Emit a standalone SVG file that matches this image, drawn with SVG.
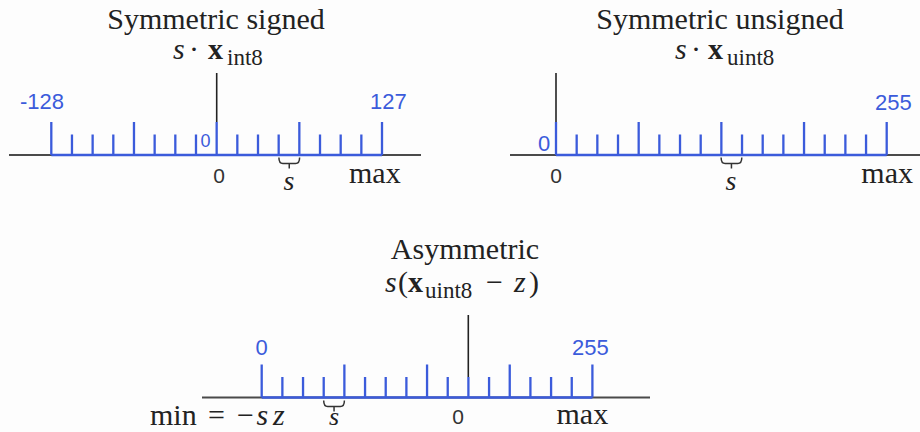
<svg xmlns="http://www.w3.org/2000/svg" xmlns:xlink="http://www.w3.org/1999/xlink" width="920" height="432" viewBox="0 0 920 432">
<style>
.axis{stroke:#4a4a4a;stroke-width:2;fill:none}
.blue{stroke:#3b5bdb;stroke-width:2.3;fill:none}
.vline{stroke:#222;stroke-width:1.6;fill:none}
.brace{stroke:#333;stroke-width:1.5;fill:none}
.num{font-family:"Liberation Sans",Arial,Helvetica,sans-serif;font-size:22px;fill:#3b5bdb}
.zero{font-family:"Liberation Sans",Arial,Helvetica,sans-serif;font-size:21px;fill:#333}
.title{font-family:"Liberation Serif","Times New Roman",serif;font-size:30px;fill:#222}
.math{font-family:"Liberation Serif","Times New Roman",serif;font-size:30px;fill:#222}
.it{font-style:italic}
.bf{font-weight:bold}
.sub{font-size:23px}
</style>
<defs>
<g id="ruler">
<path class="blue" d="M0 0H330.7 M0 0V-33 M20.67 0V-20.5 M41.34 0V-20.5 M62.01 0V-20.5 M82.68 0V-33 M103.35 0V-20.5 M124.02 0V-20.5 M144.69 0V-20.5 M165.36 0V-33 M186.03 0V-20.5 M206.7 0V-20.5 M227.37 0V-20.5 M248.04 0V-33 M268.71 0V-20.5 M289.38 0V-20.5 M310.05 0V-20.5 M330.7 0V-33"/>
</g>
<path id="brace" class="brace" d="M0 0C0 5 1.5 6 4 6H10.35V11M10.35 6H16.7C19.2 6 20.7 5 20.7 0"/>
</defs>
<rect width="920" height="432" fill="#fdfdfd"/>

<g id="symmetric-signed">
<text class="title" x="216" y="29" text-anchor="middle">Symmetric signed</text>
<text class="math" y="59"><tspan class="it" x="173">s</tspan><tspan x="189">·</tspan><tspan class="bf" x="208">x</tspan><tspan class="sub" x="227" dy="6">int8</tspan></text>
<line class="axis" x1="9" y1="155" x2="421" y2="155"/>
<use xlink:href="#ruler" href="#ruler" transform="translate(51.3,155)"/>
<line class="vline" x1="216.7" y1="73" x2="216.7" y2="122"/>
<text class="num" x="20" y="108.5">-128</text>
<text class="num" x="370" y="108.5">127</text>
<text class="num" x="200.5" y="147" style="font-size:18px">0</text>
<text class="zero" x="219" y="183" text-anchor="middle">0</text>
<use xlink:href="#brace" href="#brace" transform="translate(278.9,157.5)"/>
<text class="math it" x="289" y="190" text-anchor="middle" style="font-size:28px">s</text>
<text class="math" x="349" y="183">max</text>
</g>

<g id="symmetric-unsigned">
<text class="title" x="720" y="29" text-anchor="middle">Symmetric unsigned</text>
<text class="math" y="59"><tspan class="it" x="675">s</tspan><tspan x="691">·</tspan><tspan class="bf" x="708">x</tspan><tspan class="sub" x="727" dy="6">uint8</tspan></text>
<line class="axis" x1="510" y1="155" x2="920" y2="155"/>
<use xlink:href="#ruler" href="#ruler" transform="translate(556,155)"/>
<line class="vline" x1="556" y1="73" x2="556" y2="122"/>
<text class="num" x="538" y="150.5">0</text>
<text class="num" x="875" y="109.5">255</text>
<text class="zero" x="556" y="183" text-anchor="middle">0</text>
<use xlink:href="#brace" href="#brace" transform="translate(721.1,157.5)"/>
<text class="math it" x="731" y="190" text-anchor="middle" style="font-size:28px">s</text>
<text class="math" x="913" y="183" text-anchor="end">max</text>
</g>

<g id="asymmetric">
<text class="title" x="465" y="259" text-anchor="middle">Asymmetric</text>
<text class="math" y="292"><tspan class="it" x="385">s</tspan><tspan x="398">(</tspan><tspan class="bf" x="408">x</tspan><tspan class="sub" x="425" dy="6">uint8</tspan><tspan x="486" dy="-6">−</tspan><tspan class="it" x="514">z</tspan><tspan x="529">)</tspan></text>
<line class="axis" x1="202" y1="397.5" x2="650" y2="397.5"/>
<use xlink:href="#ruler" href="#ruler" transform="translate(261.7,397.5)"/>
<line class="vline" x1="468.3" y1="315" x2="468.3" y2="377"/>
<text class="num" x="261.7" y="355" text-anchor="middle">0</text>
<text class="num" x="572" y="355">255</text>
<text class="math" y="425"><tspan x="150">min</tspan><tspan x="208">=</tspan><tspan x="237">−</tspan><tspan class="it" x="256.5">s</tspan><tspan class="it" x="273">z</tspan></text>
<use xlink:href="#brace" href="#brace" transform="translate(323.7,400.5)"/>
<text class="math it" x="334" y="425" text-anchor="middle" style="font-size:26px">s</text>
<text class="zero" x="458" y="424" text-anchor="middle">0</text>
<text class="math" x="556.5" y="424">max</text>
</g>
</svg>
